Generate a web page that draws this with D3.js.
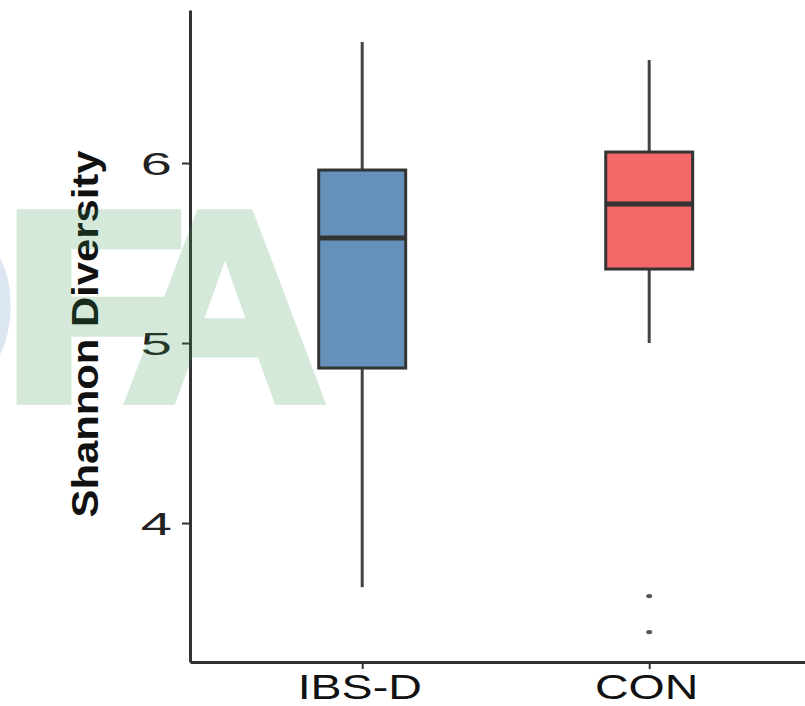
<!DOCTYPE html>
<html>
<head>
<meta charset="utf-8">
<script src="https://cdn.jsdelivr.net/npm/d3@7"></script>
<style>
  html, body { margin: 0; padding: 0; background: #fff; }
  svg { display: block; }
</style>
</head>
<body>
<svg id="chart" width="805" height="706"></svg>
<script>
// ---- data ----
const groups = ["IBS-D", "CON"];
const whiskerLow = [3.644, 5.0];
const q1 = [4.861, 5.411];
const median = [5.583, 5.772];
const q3 = [5.961, 6.061];
const whiskerHigh = [6.672, 6.572];
const outliers = [[], [3.594, 3.394]];
const fills = ["#6590BA", "#F26767"];
const yTicks = [4, 5, 6];
const yLabel = "Shannon Diversity";

(function () {
// ---- layout ----
const svg = d3.select("#chart");
const plotLeft = 190, plotTop = 10, plotBottom = 662;
const lineCol = "#333333";

const y = d3.scaleLinear().domain([3.228, 6.85]).range([plotBottom, plotTop]);
const x = d3.scalePoint().domain(groups).range([plotLeft, 821.4]).padding(0.6);
const boxW = x.step() * 0.303;

// ---- boxes ----
const data = groups.map((g, i) => ({
  g, lo: whiskerLow[i], q1: q1[i], med: median[i], q3: q3[i], hi: whiskerHigh[i],
  out: outliers[i], fill: fills[i]
}));

const gb = svg.append("g");
data.forEach(d => {
  const cx = x(d.g);
  gb.append("line").attr("x1", cx).attr("x2", cx)
    .attr("y1", y(d.hi)).attr("y2", y(d.q3))
    .attr("stroke", "#444").attr("stroke-width", 3);
  gb.append("line").attr("x1", cx).attr("x2", cx)
    .attr("y1", y(d.q1)).attr("y2", y(d.lo))
    .attr("stroke", "#444").attr("stroke-width", 3);
  gb.append("rect")
    .attr("x", cx - boxW / 2).attr("width", boxW)
    .attr("y", y(d.q3)).attr("height", y(d.q1) - y(d.q3))
    .attr("fill", d.fill).attr("stroke", lineCol).attr("stroke-width", 3);
  gb.append("line")
    .attr("x1", cx - boxW / 2).attr("x2", cx + boxW / 2)
    .attr("y1", y(d.med)).attr("y2", y(d.med))
    .attr("stroke", lineCol).attr("stroke-width", 5);
  d.out.forEach(v => {
    gb.append("ellipse").attr("cx", cx).attr("cy", y(v))
      .attr("rx", 3).attr("ry", 2.2).attr("fill", "#555");
  });
});

// ---- axes ----
const yAxis = svg.append("g").attr("transform", `translate(${plotLeft},0)`)
  .call(d3.axisLeft(y).tickValues(yTicks).tickFormat(d3.format("d"))
    .tickSize(8).tickSizeOuter(0).tickPadding(0));
yAxis.select(".domain").attr("stroke", lineCol).attr("stroke-width", 3);
yAxis.selectAll(".tick line").attr("stroke", lineCol).attr("stroke-width", 2);
yAxis.selectAll(".tick text")
  .attr("x", 0).attr("dy", "0.36em")
  .attr("transform", "translate(-18,0) scale(1.75,1)")
  .attr("font-family", "Liberation Sans, Arial, sans-serif")
  .attr("font-size", 32).attr("fill", "#222").attr("text-anchor", "end");

const xAxis = svg.append("g").attr("transform", `translate(0,${plotBottom})`)
  .call(d3.axisBottom(x).tickSize(7).tickSizeOuter(0).tickPadding(0));
xAxis.select(".domain").attr("stroke", lineCol).attr("stroke-width", 3);
xAxis.selectAll(".tick line").attr("stroke", lineCol).attr("stroke-width", 2);
xAxis.selectAll(".tick text")
  .attr("y", 0).attr("dy", 0)
  .attr("transform", "translate(-3,37) scale(1.33,1)")
  .attr("font-family", "Liberation Sans, Arial, sans-serif")
  .attr("font-size", 35).attr("fill", "#111").attr("text-anchor", "middle");

// ---- y label ----
svg.append("text")
  .attr("transform", "translate(98,334) rotate(-90)")
  .attr("text-anchor", "middle")
  .attr("font-family", "Liberation Sans, Arial, sans-serif")
  .attr("font-weight", "bold")
  .attr("font-size", 36)
  .attr("textLength", 367).attr("lengthAdjust", "spacingAndGlyphs")
  .attr("fill", "#111")
  .text(yLabel);

// ---- watermark overlay ----
const wm = svg.append("g").attr("pointer-events", "none")
  .attr("font-family", "Liberation Sans, Arial, sans-serif").attr("font-weight", "bold")
  .attr("font-size", 270);
wm.append("text").attr("x", 22).attr("y", 400).attr("text-anchor", "end")
  .attr("fill", "rgb(70,120,190)").attr("opacity", 0.18).text("D");
const wmg = wm.append("g").attr("opacity", 0.2)
  .attr("fill", "rgb(50,150,75)").attr("stroke", "rgb(50,150,75)")
  .attr("stroke-width", 10).attr("stroke-linejoin", "miter");
wmg.append("text").attr("transform", "translate(2,400) scale(1.12,1)").text("F");
wmg.append("text").attr("transform", "translate(225,400) scale(1.04,1)")
  .attr("text-anchor", "middle").text("A");
})();
</script>
</body>
</html>
